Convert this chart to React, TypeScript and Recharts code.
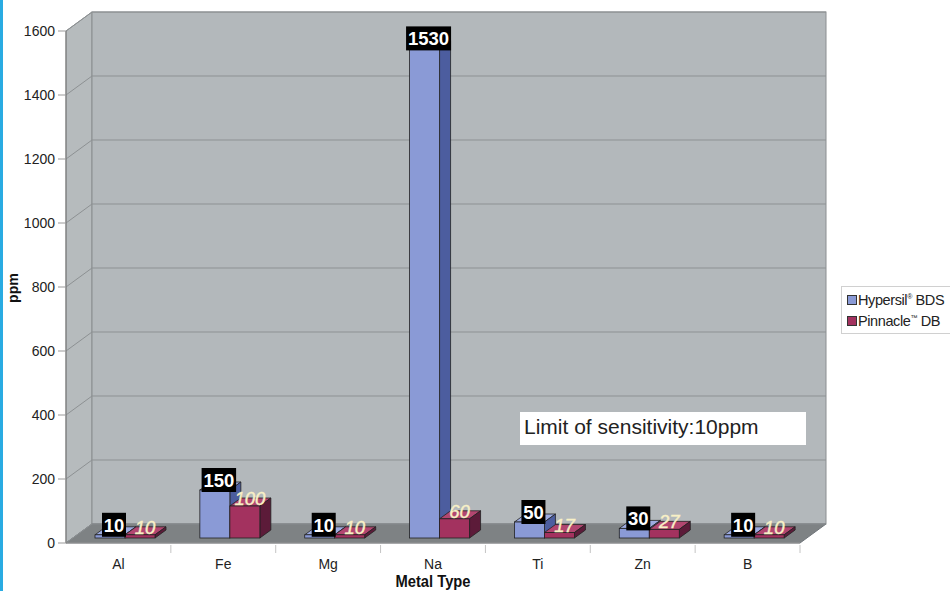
import React from "react";
import { BarChart, Bar, XAxis, YAxis, CartesianGrid, ReferenceArea, LabelList, Legend } from "recharts";

const metals = ["Al", "Fe", "Mg", "Na", "Ti", "Zn", "B"];
const hypersil = [10, 150, 10, 1530, 50, 30, 10];
const pinnacle = [10, 100, 10, 60, 17, 27, 10];
const yTicks = [0, 200, 400, 600, 800, 1000, 1200, 1400, 1600];

const data = metals.map((metal, i) => ({ metal, hypersil: hypersil[i], pinnacle: pinnacle[i] }));

// wall depth, bar offset inside the box, bar depth
const DX = 26, DY = 19;
const BX = 7, BY = 5;
const SX = 11, SY = 8;
const FONT = "'Liberation Sans', Arial, sans-serif";

const palette: Record<string, { front: string; top: string; side: string }> = {
  hypersil: { front: "#8a9ad6", top: "#9dabe0", side: "#4c5d9f" },
  pinnacle: { front: "#a3325f", top: "#b24670", side: "#5c1b39" },
};

function Walls(props: any) {
  const { x, y, width: w, height: h } = props;
  const b = y + h;
  return (
    <g>
      <polygon points={`${x},${y} ${x + DX},${y - DY} ${x + DX},${b - DY} ${x},${b}`} fill="#b6bbbd" stroke="#8a8e90" />
      <rect x={x + DX} y={y - DY} width={w} height={h} fill="#b3b8bb" stroke="#8a8e90" />
      <polygon points={`${x},${b} ${x + DX},${b - DY} ${x + w + DX},${b - DY} ${x + w},${b}`} fill="#7e8284" stroke="#70757a" />
    </g>
  );
}

function gridLine(props: any) {
  const { x1, y1, x2, y2, index } = props;
  return (
    <g key={`g${index}`}>
      <line x1={x1 + DX} y1={y1 - DY} x2={x2 + DX} y2={y2 - DY} stroke="#8d9193" strokeWidth={1} />
      <line x1={x1} y1={y1} x2={x1 + DX} y2={y1 - DY} stroke="#8d9193" strokeWidth={1} />
    </g>
  );
}

function Bar3D(props: any) {
  const { x, y, width: w, height: h, dataKey } = props;
  const c = palette[dataKey] || palette.hypersil;
  const fx = x + BX, fy = y - BY;
  return (
    <g stroke="#222" strokeWidth={0.8}>
      <polygon points={`${fx},${fy} ${fx + w},${fy} ${fx + w + SX},${fy - SY} ${fx + SX},${fy - SY}`} fill={c.top} />
      <polygon points={`${fx + w},${fy} ${fx + w + SX},${fy - SY} ${fx + w + SX},${fy + h - SY} ${fx + w},${fy + h}`} fill={c.side} />
      <rect x={fx} y={fy} width={w} height={h} fill={c.front} />
    </g>
  );
}

function HyperLabel(props: any) {
  const x = Number(props.x), y = Number(props.y), w = Number(props.width);
  const txt = String(props.value);
  const cx = x + w / 2 + BX + 4;
  const top = y - BY;
  const bw = txt.length * 10.5 + 3;
  return (
    <g>
      <rect x={cx - bw / 2} y={top - 22} width={bw} height={24} fill="#000" />
      <text x={cx} y={top - 3} textAnchor="middle" fill="#fff" fontSize={18.5} fontWeight="bold" fontFamily={FONT}>
        {txt}
      </text>
    </g>
  );
}

function PinnLabel(props: any) {
  const x = Number(props.x), y = Number(props.y), w = Number(props.width);
  const cx = x + w / 2 + BX + 5;
  return (
    <text x={cx} y={y - BY - 1} textAnchor="middle" fill="#f8f0c6" stroke="#f8f0c6" strokeWidth={0.4} fontSize={18.5} fontStyle="italic" fontFamily={FONT}>
      {String(props.value)}
    </text>
  );
}

function MetalTick(props: any) {
  const { x, y, payload } = props;
  const off = payload && payload.offset ? payload.offset : 52.4;
  return (
    <g>
      <line x1={x + off} y1={y - 6} x2={x + off} y2={y + 2} stroke="#c4c4c4" />
      <text x={x} y={y + 18} textAnchor="middle" fill="#222" fontSize={14} fontFamily={FONT}>
        {payload.value}
      </text>
    </g>
  );
}

function LegendBox() {
  const item = (color: string, label: React.ReactNode) => (
    <div style={{ display: "flex", alignItems: "center", height: 21, whiteSpace: "nowrap" }}>
      <span style={{ width: 8, height: 8, background: color, border: "1px solid #333", marginRight: 1 }} />
      <span>{label}</span>
    </div>
  );
  return (
    <div style={{ border: "1px solid #d0d0d0", background: "#fff", padding: "2px 0 2px 5px", fontFamily: FONT, fontSize: 14.5, color: "#222", width: 120, letterSpacing: -0.4 }}>
      {item(palette.hypersil.front, <>Hypersil<sup style={{ fontSize: 7 }}>®</sup> BDS</>)}
      {item(palette.pinnacle.front, <>Pinnacle<sup style={{ fontSize: 7 }}>™</sup> DB</>)}
    </div>
  );
}

export default function App() {
  return (
    <div style={{ position: "absolute", left: 0, top: 0, width: 950, height: 591, background: "#fff", overflow: "hidden" }}>
      <div style={{ position: "absolute", left: 0, top: 0, width: 3, height: 591, background: "#29abe2" }} />
      <BarChart width={950} height={591} data={data} margin={{ top: 31, right: 150, bottom: 18, left: 20 }} barSize={30} barGap={0}>
        <ReferenceArea y1={0} y2={1600} shape={<Walls />} zIndex={-200} />
        <CartesianGrid vertical={false} horizontal={gridLine} />
        <XAxis
          dataKey="metal"
          height={30}
          tickLine={false}
          axisLine={{ stroke: "#9a9a9a" }}
          tick={<MetalTick />}
          label={(p: any) => {
            const vb = p.viewBox || { x: 66, y: 543, width: 734 };
            return (
              <text x={vb.x + vb.width / 2} y={vb.y + 44} textAnchor="middle" fontSize={17} fontWeight="bold" fill="#111" fontFamily={FONT} textLength={75} lengthAdjust="spacingAndGlyphs">
                Metal Type
              </text>
            );
          }}
        />
        <YAxis
          width={46}
          domain={[0, 1600]}
          ticks={yTicks}
          tickSize={8}
          tickMargin={3}
          tickLine={{ stroke: "#999" }}
          axisLine={{ stroke: "#7a7a7a" }}
          tick={{ fill: "#222", fontSize: 14, fontFamily: FONT }}
          label={(p: any) => {
            const vb = p.viewBox || { x: 20, y: 31, height: 512 };
            const lx = vb.x - 2, ly = vb.y + vb.height / 2 + 1;
            return (
              <text x={lx} y={ly} transform={`rotate(-90 ${lx} ${ly})`} textAnchor="middle" fontSize={15} fontWeight="bold" fill="#111" fontFamily={FONT} textLength={30} lengthAdjust="spacingAndGlyphs">
                ppm
              </text>
            );
          }}
        />
        <Legend layout="vertical" align="center" verticalAlign="middle" content={() => <LegendBox />} wrapperStyle={{ left: 841, top: 286, width: 130 }} />
        <Bar dataKey="hypersil" name="Hypersil BDS" shape={<Bar3D />} isAnimationActive={false}>
          <LabelList dataKey="hypersil" content={<HyperLabel />} />
        </Bar>
        <Bar dataKey="pinnacle" name="Pinnacle DB" shape={<Bar3D />} isAnimationActive={false}>
          <LabelList dataKey="pinnacle" content={<PinnLabel />} />
        </Bar>
      </BarChart>
      <div style={{ position: "absolute", left: 520, top: 412, width: 286, height: 33, background: "#fff", fontFamily: FONT, fontSize: 21, color: "#222", lineHeight: "30px", paddingLeft: 4, boxSizing: "border-box", whiteSpace: "nowrap" }}>
        Limit of sensitivity:10ppm
      </div>
    </div>
  );
}
